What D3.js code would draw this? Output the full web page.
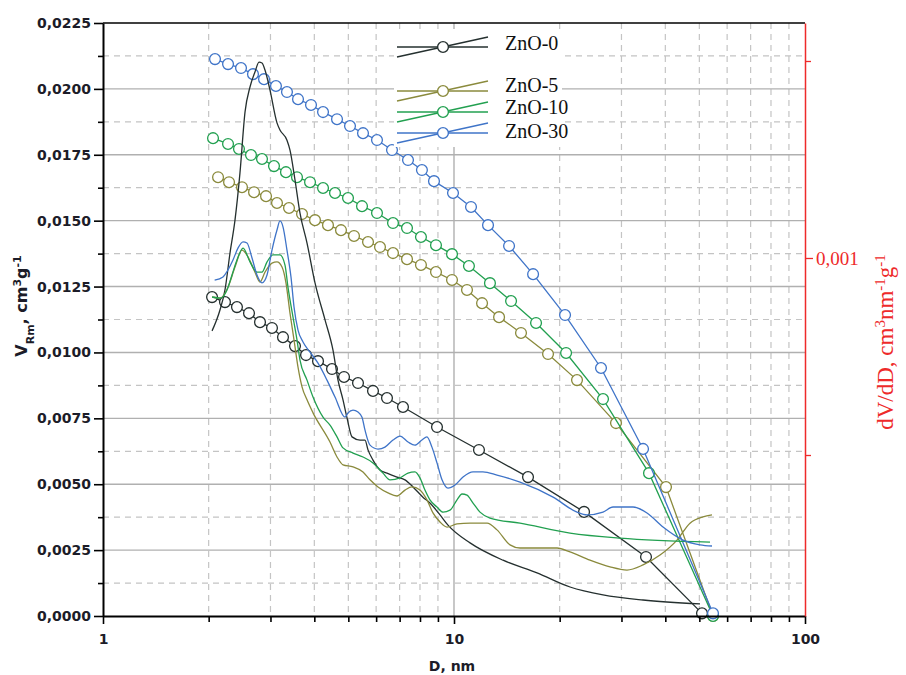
<!DOCTYPE html>
<html><head><meta charset="utf-8">
<script src="https://cdn.jsdelivr.net/npm/d3@7"></script>
<style>body{margin:0;background:#fff}</style>
</head><body><svg id="c" width="906" height="675"></svg>
<script>
// ---------------- DATA ----------------
const seriesNames = ["ZnO-0", "ZnO-5", "ZnO-10", "ZnO-30"];
const seriesColors = ["#25302f", "#8a8a3c", "#22a050", "#3f74c8"];

// cumulative pore volume (circles, left axis): [D nm, V cm3/g]
const cumZnO0 = [[2.045,0.01210],[2.226,0.01191],[2.408,0.01172],[2.606,0.01149],[2.801,0.01115],[3.030,0.01093],[3.257,0.01058],[3.524,0.01024],[3.788,0.00990],[4.098,0.00967],[4.492,0.00937],[4.860,0.00907],[5.327,0.00884],[5.878,0.00854],[6.443,0.00827],[7.156,0.00793],[8.944,0.00717],[11.78,0.00630],[16.25,0.00527],[23.47,0.00395],[35.24,0.00224],[50.88,0.0001]];
const cumZnO5 = [[2.127,0.01665],[2.286,0.01646],[2.489,0.01627],[2.693,0.01608],[2.914,0.01593],[3.131,0.01567],[3.388,0.01548],[3.690,0.01525],[4.018,0.01502],[4.375,0.01483],[4.765,0.01464],[5.189,0.01442],[5.689,0.01419],[6.154,0.01400],[6.702,0.01377],[7.347,0.01354],[8.051,0.01332],[8.886,0.01305],[9.870,0.01275],[10.89,0.01237],[12.02,0.01187],[13.44,0.01134],[15.52,0.01074],[18.53,0.00994],[22.41,0.00895],[28.94,0.00732],[40.18,0.00489],[54.69,0.0000]];
const cumZnO10 = [[2.058,0.01813],[2.271,0.01791],[2.440,0.01772],[2.640,0.01749],[2.838,0.01734],[3.070,0.01707],[3.321,0.01684],[3.570,0.01665],[3.889,0.01646],[4.235,0.01624],[4.581,0.01605],[4.989,0.01586],[5.469,0.01555],[6.034,0.01529],[6.702,0.01491],[7.347,0.01472],[8.051,0.01438],[8.886,0.01407],[9.870,0.01373],[11.03,0.01328],[12.66,0.01263],[14.54,0.01195],[17.13,0.01112],[20.86,0.00998],[26.58,0.00823],[35.94,0.00542],[54.69,0.0000]];
const cumZnO30 = [[2.085,0.02113],[2.271,0.02094],[2.473,0.02079],[2.675,0.02056],[2.876,0.02037],[3.110,0.02011],[3.343,0.01988],[3.594,0.01961],[3.914,0.01939],[4.235,0.01912],[4.642,0.01885],[5.055,0.01859],[5.505,0.01832],[6.034,0.01806],[6.658,0.01768],[7.395,0.01730],[8.103,0.01692],[8.770,0.01650],[9.935,0.01605],[11.18,0.01552],[12.50,0.01483],[14.35,0.01404],[16.80,0.01297],[20.72,0.01142],[26.23,0.00941],[34.56,0.00634],[54.69,0.0001]];

// pore size distribution dV/dD (lines, right axis): [D nm, dV/dD]
const distZnO0 = [[2.045,0.000815],[2.154,0.000868],[2.226,0.000919],[2.301,0.001013],[2.377,0.001096],[2.456,0.001216],[2.539,0.001371],[2.623,0.001434],[2.710,0.001472],[2.783,0.001497],[2.838,0.001495],[2.894,0.001477],[2.991,0.001426],[3.131,0.001343],[3.193,0.001325],[3.343,0.001299],[3.410,0.001274],[3.524,0.001198],[3.641,0.001114],[3.813,0.001038],[4.018,0.000937],[4.291,0.000843],[4.521,0.000766],[4.672,0.000690],[4.828,0.000640],[4.957,0.000594],[5.122,0.000546],[5.398,0.000538],[5.578,0.000538],[5.689,0.000513],[5.878,0.000487],[6.154,0.000462],[6.443,0.000454],[6.880,0.000444],[7.251,0.000437],[7.640,0.000419],[8.157,0.000393],[8.540,0.000378],[9.123,0.000348],[9.614,0.000322],[11.11,0.000277],[13.79,0.000233],[17.24,0.000201],[21.41,0.000165],[26.58,0.000145],[34.56,0.000132],[50.22,0.000122]];
const distZnO5 = [[2.045,0.000901],[2.154,0.000898],[2.271,0.000926],[2.377,0.000977],[2.489,0.001020],[2.589,0.001003],[2.710,0.000964],[2.801,0.000939],[2.894,0.000964],[3.030,0.000987],[3.131,0.000990],[3.236,0.000977],[3.321,0.000937],[3.410,0.000860],[3.501,0.000792],[3.594,0.000723],[3.690,0.000673],[3.813,0.000640],[3.966,0.000607],[4.433,0.000533],[4.642,0.000495],[4.828,0.000475],[5.156,0.000470],[5.505,0.000457],[5.764,0.000437],[6.074,0.000419],[6.486,0.000404],[6.880,0.000396],[7.251,0.000411],[7.590,0.000419],[7.998,0.000411],[8.374,0.000386],[8.711,0.000353],[9.123,0.000330],[9.552,0.000317],[10.20,0.000325],[11.11,0.000327],[12.42,0.000327],[13.26,0.000310],[14.44,0.000272],[15.42,0.000264],[17.24,0.000264],[19.66,0.000264],[21.41,0.000254],[24.41,0.000233],[27.82,0.000216],[31.11,0.000208],[34.56,0.000221],[38.63,0.000246],[43.18,0.000284],[47.03,0.000327],[51.21,0.000343],[54.33,0.000348]];
const distZnO10 = [[2.045,0.000901],[2.154,0.000898],[2.256,0.000919],[2.331,0.000957],[2.408,0.000995],[2.506,0.001025],[2.623,0.000990],[2.746,0.000964],[2.838,0.000964],[2.933,0.000990],[3.050,0.001008],[3.193,0.001008],[3.300,0.000982],[3.365,0.000926],[3.478,0.000850],[3.570,0.000792],[3.641,0.000741],[3.813,0.000690],[3.966,0.000647],[4.235,0.000596],[4.433,0.000576],[4.642,0.000546],[4.828,0.000518],[5.156,0.000505],[5.505,0.000495],[5.878,0.000480],[6.276,0.000454],[6.572,0.000437],[7.017,0.000442],[7.395,0.000454],[7.740,0.000457],[7.998,0.000442],[8.265,0.000411],[8.540,0.000386],[8.944,0.000368],[9.305,0.000355],[9.741,0.000360],[10.20,0.000386],[10.54,0.000401],[10.89,0.000398],[11.33,0.000378],[11.86,0.000355],[12.66,0.000340],[15.42,0.000327],[21.41,0.000302],[29.71,0.000289],[53.62,0.000279]];
const distZnO30 = [[2.080,0.000944],[2.197,0.000952],[2.271,0.000970],[2.346,0.000995],[2.424,0.001025],[2.506,0.001041],[2.572,0.001038],[2.658,0.001000],[2.746,0.000957],[2.838,0.000937],[2.933,0.000957],[3.030,0.001020],[3.131,0.001071],[3.193,0.001094],[3.257,0.001079],[3.343,0.001020],[3.432,0.000952],[3.501,0.000876],[3.594,0.000817],[3.714,0.000787],[3.889,0.000761],[4.098,0.000733],[4.347,0.000690],[4.581,0.000647],[4.892,0.000596],[4.989,0.000607],[5.156,0.000614],[5.327,0.000609],[5.469,0.000596],[5.578,0.000563],[5.764,0.000525],[6.074,0.000515],[6.359,0.000520],[6.702,0.000538],[7.017,0.000548],[7.395,0.000533],[7.740,0.000525],[8.103,0.000538],[8.374,0.000546],[8.653,0.000520],[8.944,0.000480],[9.244,0.000437],[9.614,0.000416],[10.07,0.000424],[10.61,0.000444],[11.33,0.000457],[12.09,0.000457],[13.26,0.000449],[15.42,0.000431],[19.15,0.000393],[22.41,0.000355],[23.93,0.000348],[26.58,0.000355],[28.38,0.000368],[32.36,0.000368],[35.47,0.000353],[39.40,0.000317],[44.92,0.000284],[50.22,0.000272],[54.33,0.000269]];

const cumSeries = [cumZnO0, cumZnO5, cumZnO10, cumZnO30];
const distSeries = [distZnO0, distZnO5, distZnO10, distZnO30];

// axes
const xDomain = [1, 100];
const xTickValues = [1, 10, 100];
const yLeftDomain = [0, 0.0225];
const yLeftTicks = [0, 0.0025, 0.005, 0.0075, 0.01, 0.0125, 0.015, 0.0175, 0.02, 0.0225];
const yRightDomain = [0.0000914, 0.0015964];
const yRightMajor = [0.001];
const yRightMinor = [0.0005, 0.0015];
const xLabel = "D, nm";

// ---------------- DRAW ----------------
const svg = d3.select("#c");
const L = 103, R = 805, T = 23, B = 616;
const x = d3.scaleLog().domain(xDomain).range([L, R]);
const yL = d3.scaleLinear().domain(yLeftDomain).range([B, T]);
const yR = d3.scaleLinear().domain(yRightDomain).range([B, T]);

const xMinor = [];
[1, 10].forEach(dec => { for (let k = 2; k <= 9; k++) xMinor.push(k * dec); });
const yMinor = yLeftTicks.slice(0, -1).map((v, i) => (v + yLeftTicks[i + 1]) / 2);

const grid = svg.append("g");
grid.selectAll(".vx").data(xMinor).join("line")
  .attr("x1", d => x(d)).attr("x2", d => x(d)).attr("y1", T).attr("y2", B)
  .attr("stroke", "#c4c4c4").attr("stroke-width", 1.2).attr("stroke-dasharray", "6,5");
grid.selectAll(".hy").data(yMinor).join("line")
  .attr("x1", L).attr("x2", R).attr("y1", d => yL(d)).attr("y2", d => yL(d))
  .attr("stroke", "#c4c4c4").attr("stroke-width", 1.2).attr("stroke-dasharray", "6,5");
grid.selectAll(".hs").data(yLeftTicks.slice(1, -1)).join("line")
  .attr("x1", L).attr("x2", R).attr("y1", d => yL(d)).attr("y2", d => yL(d))
  .attr("stroke", "#b0b0b0").attr("stroke-width", 1.4);
grid.append("line").attr("x1", x(10)).attr("x2", x(10)).attr("y1", T).attr("y2", B)
  .attr("stroke", "#b0b0b0").attr("stroke-width", 1.4);

const lineL = d3.line().x(d => x(d[0])).y(d => yL(d[1]));
const lineR = d3.line().x(d => x(d[0])).y(d => yR(d[1])).curve(d3.curveMonotoneX);

cumSeries.forEach((s, i) => {
  const g = svg.append("g");
  g.append("path").attr("d", lineL(s)).attr("fill", "none")
    .attr("stroke", seriesColors[i]).attr("stroke-width", 1.3);
  g.selectAll("circle").data(s).join("circle")
    .attr("cx", d => x(d[0])).attr("cy", d => yL(d[1])).attr("r", 5.4)
    .attr("fill", "#fff").attr("stroke", seriesColors[i]).attr("stroke-width", 1.3);
});
distSeries.forEach((s, i) => {
  svg.append("path").attr("d", lineR(s)).attr("fill", "none")
    .attr("stroke", seriesColors[i]).attr("stroke-width", 1.3);
});

// legend
const lg = svg.append("g");
lg.append("rect").attr("x", 394).attr("y", 29).attr("width", 168).attr("height", 118).attr("fill", "#fff");
const legY = [47, 91, 112, 133];
const legTextY = [50, 92, 114, 138];
seriesNames.forEach((n, i) => {
  const yy = legY[i], c = seriesColors[i];
  lg.append("line").attr("x1", 397).attr("x2", 488).attr("y1", yy).attr("y2", yy)
    .attr("stroke", c).attr("stroke-width", 1.4);
  lg.append("line").attr("x1", 397).attr("x2", 488).attr("y1", yy + 10).attr("y2", yy - 10)
    .attr("stroke", c).attr("stroke-width", 1.3);
  lg.append("circle").attr("cx", 443).attr("cy", yy).attr("r", 5.4)
    .attr("fill", "#fff").attr("stroke", c).attr("stroke-width", 1.4);
  lg.append("text").attr("x", 505).attr("y", legTextY[i]).text(n)
    .attr("font-family", "Liberation Serif, Times New Roman, serif").attr("font-size", 20).attr("fill", "#111");
});

// axes
const fmt = v => d3.format(".4f")(v).replace(".", ",");
const tickFont = sel => sel.selectAll("text").attr("font-family", "DejaVu Sans, Verdana, sans-serif")
  .attr("font-weight", "bold").attr("font-size", 14).attr("fill", "#1c1c28");

const axL = svg.append("g").attr("transform", `translate(${L},0)`)
  .call(d3.axisLeft(yL).tickValues(yLeftTicks).tickSize(9).tickSizeOuter(0).tickFormat(fmt).tickPadding(3));
axL.call(tickFont);
axL.select(".domain").attr("stroke-width", 2);
axL.selectAll(".tick line").attr("stroke-width", 1.6);
svg.append("g").attr("transform", `translate(${L},0)`)
  .call(d3.axisLeft(yL).tickValues(yMinor).tickSize(5).tickSizeOuter(0).tickFormat(""))
  .call(g => g.select(".domain").remove()).selectAll("line").attr("stroke-width", 1.6);

const axB = svg.append("g").attr("transform", `translate(0,${B})`)
  .call(d3.axisBottom(x).tickValues(xTickValues).tickSize(8).tickSizeOuter(0).tickFormat(d3.format("d")).tickPadding(10));
axB.call(tickFont);
axB.select(".domain").attr("stroke-width", 2);
axB.selectAll(".tick line").attr("stroke-width", 1.6);
svg.append("g").attr("transform", `translate(0,${B})`)
  .call(d3.axisBottom(x).tickValues(xMinor).tickSize(6).tickSizeOuter(0).tickFormat(""))
  .call(g => g.select(".domain").remove()).selectAll("line").attr("stroke-width", 1.6);

svg.append("line").attr("x1", L).attr("x2", R).attr("y1", T).attr("y2", T)
  .attr("stroke", "#000").attr("stroke-width", 1.5);

const red = "#ee2a2a";
const axR = svg.append("g").attr("transform", `translate(${R},0)`)
  .call(d3.axisRight(yR).tickValues(yRightMajor).tickSize(8).tickSizeOuter(0)
    .tickFormat(v => d3.format(".3f")(v).replace(".", ",")).tickPadding(3));
axR.select(".domain").attr("stroke", red).attr("stroke-width", 1.5);
axR.selectAll(".tick line").attr("stroke", red).attr("stroke-width", 1.3);
axR.selectAll("text").attr("fill", red).attr("font-family", "Liberation Serif, Times New Roman, serif")
  .attr("font-size", 19);
svg.append("g").attr("transform", `translate(${R},0)`)
  .call(d3.axisRight(yR).tickValues(yRightMinor).tickSize(6).tickSizeOuter(0).tickFormat(""))
  .call(g => g.select(".domain").remove()).selectAll("line").attr("stroke", red).attr("stroke-width", 1.3);

// axis titles
svg.append("text").attr("x", (L + R) / 2 - 2).attr("y", 671).attr("text-anchor", "middle")
  .attr("font-family", "DejaVu Sans, Verdana, sans-serif").attr("font-weight", "bold")
  .attr("font-size", 14).attr("fill", "#1c1c28").text(xLabel);

const yt = svg.append("text").attr("transform", "translate(27,306) rotate(-90)")
  .attr("text-anchor", "middle").attr("font-family", "DejaVu Sans, Verdana, sans-serif")
  .attr("font-weight", "bold").attr("font-size", 16).attr("fill", "#1c1c28");
yt.append("tspan").text("V");
yt.append("tspan").attr("baseline-shift", "sub").attr("font-size", 11).text("Rm");
yt.append("tspan").text(", cm");
yt.append("tspan").attr("baseline-shift", "super").attr("font-size", 11).text("3");
yt.append("tspan").text("g");
yt.append("tspan").attr("baseline-shift", "super").attr("font-size", 11).text("-1");

const rt = svg.append("text").attr("transform", "translate(893,342) rotate(-90)")
  .attr("text-anchor", "middle").attr("font-family", "Liberation Serif, Times New Roman, serif")
  .attr("font-size", 23).attr("fill", red);
rt.append("tspan").text("dV/dD, cm");
rt.append("tspan").attr("baseline-shift", "super").attr("font-size", 15).text("3");
rt.append("tspan").text("nm");
rt.append("tspan").attr("baseline-shift", "super").attr("font-size", 15).text("-1");
rt.append("tspan").text("g");
rt.append("tspan").attr("baseline-shift", "super").attr("font-size", 15).text("-1");
</script></body></html>
